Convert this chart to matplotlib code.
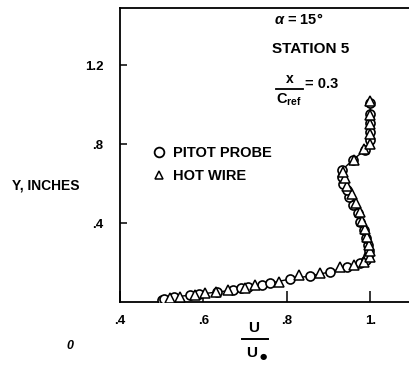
import matplotlib
matplotlib.use("Agg")
import matplotlib.pyplot as plt
from matplotlib.lines import Line2D

plt.rcParams['font.family'] = ['Liberation Sans', 'DejaVu Sans']
plt.rcParams['mathtext.fontset'] = 'custom'
plt.rcParams['mathtext.rm'] = 'Liberation Sans:bold'
plt.rcParams['mathtext.it'] = 'Liberation Sans:italic:bold'
plt.rcParams['mathtext.bf'] = 'Liberation Sans:bold'

# Data (U/U_inf, Y inches)
pitot_u = [0.50, 0.505, 0.53, 0.568, 0.59, 0.632, 0.67, 0.69, 0.707, 0.74, 0.76,
           0.807, 0.855, 0.903, 0.945, 0.975, 0.99, 0.995, 0.997, 0.995, 0.99,
           0.985, 0.975, 0.97, 0.958, 0.95, 0.945, 0.935, 0.932, 0.932, 0.958,
           0.987, 1.0, 1.0, 1.0, 1.0, 1.0]
pitot_y = [0.01, 0.015, 0.025, 0.035, 0.04, 0.05, 0.06, 0.07, 0.076, 0.086, 0.096,
           0.116, 0.132, 0.152, 0.178, 0.197, 0.213, 0.235, 0.26, 0.29, 0.325,
           0.365, 0.405, 0.45, 0.49, 0.53, 0.567, 0.60, 0.635, 0.668, 0.72,
           0.77, 0.82, 0.86, 0.905, 0.955, 1.01]
hot_u = [0.52, 0.545, 0.58, 0.604, 0.63, 0.66, 0.70, 0.723, 0.78, 0.83, 0.88,
         0.927, 0.96, 0.985, 1.0, 1.0, 0.998, 0.993, 0.988, 0.98, 0.975, 0.965,
         0.955, 0.945, 0.94, 0.935, 0.96, 0.985, 1.0, 1.0, 1.0, 1.0, 1.0]
hot_y = [0.02, 0.025, 0.035, 0.046, 0.052, 0.061, 0.072, 0.085, 0.10, 0.137, 0.147,
         0.178, 0.19, 0.205, 0.23, 0.26, 0.29, 0.33, 0.37, 0.41, 0.455, 0.50,
         0.545, 0.59, 0.63, 0.66, 0.72, 0.775, 0.80, 0.85, 0.90, 0.95, 1.02]

xticks = [0.4, 0.6, 0.8, 1.0]
xticklabels = ['.4', '.6', '.8', '1.']
yticks = [0.4, 0.8, 1.2]
yticklabels = ['.4', '.8', '1.2']

W, H = 409, 366
fig = plt.figure(figsize=(W / 100, H / 100), dpi=100)
ax = fig.add_axes([120 / W, 64 / H, 292 / W, 294 / H])
ax.set_xlim(0.4, 1.1)
ax.set_ylim(0, 1.49)

ax.plot(pitot_u, pitot_y, '-', color='black', lw=1.0, zorder=2)
ax.plot(pitot_u, pitot_y, 'o', mfc='white', mec='black', ms=6.5, mew=1.2, zorder=3)
ax.plot(hot_u, hot_y, '^', mfc='white', mec='black', ms=6.5, mew=1.1, zorder=4)

for s in ax.spines.values():
    s.set_linewidth(1.3)
ax.spines['right'].set_visible(False)

ax.set_xticks(xticks)
ax.set_xticklabels(xticklabels)
ax.set_yticks(yticks)
ax.set_yticklabels(yticklabels)
ax.tick_params(axis='x', direction='in', length=8, width=1.1, pad=9, labelsize=9.5)
ax.tick_params(axis='y', direction='in', length=5, width=1.1, pad=12, labelsize=9.5)
for lab in ax.get_xticklabels() + ax.get_yticklabels():
    lab.set_fontweight('bold')

# legend
handles = [Line2D([], [], ls='none', marker='o', mfc='white', mec='black', ms=7, mew=1.3),
           Line2D([], [], ls='none', marker='^', mfc='white', mec='black', ms=6, mew=1.1)]
leg = ax.legend(handles, ['PITOT PROBE', 'HOT WIRE'], loc='upper left',
                bbox_to_anchor=(0.10, 0.55), frameon=False, handlelength=0.6,
                handletextpad=0.6, labelspacing=0.6, borderaxespad=0,
                prop={'weight': 'bold', 'size': 10.5})

# annotations
fig.text(299 / W, 1 - 20 / H, r'$\alpha$' + ' = 15°', ha='center', va='center',
         fontsize=10.5, fontweight='bold')
fig.text(311 / W, 1 - 49 / H, 'STATION 5', ha='center', va='center',
         fontsize=11, fontweight='bold')
fig.text(290 / W, 1 - 79 / H, 'x', ha='center', va='center', fontsize=10, fontweight='bold')
fig.add_artist(Line2D([276 / W, 303 / W], [1 - 89 / H, 1 - 89 / H], color='black', lw=1.3))
fig.text(289 / W, 1 - 100 / H, r'C$_{\mathbf{ref}}$', ha='center', va='center',
         fontsize=10.5, fontweight='bold')
fig.text(305 / W, 1 - 84 / H, '= 0.3', ha='left', va='center', fontsize=10.5, fontweight='bold')

fig.text(12 / W, 1 - 185 / H, 'Y, INCHES', ha='left', va='center', fontsize=10, fontweight='bold')

fig.text(254 / W, 1 - 328 / H, 'U', ha='center', va='center', fontsize=11, fontweight='bold')
fig.add_artist(Line2D([242 / W, 268 / W], [1 - 339 / H, 1 - 339 / H], color='black', lw=1.4))
fig.text(252 / W, 1 - 353 / H, 'U', ha='center', va='center', fontsize=11, fontweight='bold')
fig.text(263 / W, 1 - 356 / H, '●', ha='center', va='center', fontsize=6,
         family=['DejaVu Sans'])
fig.text(70 / W, 1 - 346 / H, '0', ha='center', va='center', fontsize=9,
         fontweight='bold', fontstyle='italic')

fig.savefig('out.png', dpi=100)
